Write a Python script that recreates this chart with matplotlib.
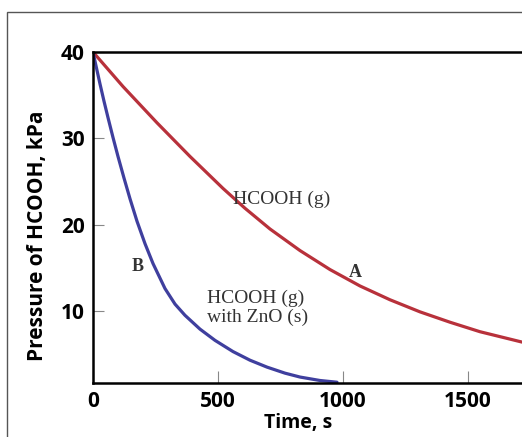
import matplotlib
matplotlib.use("Agg")
import matplotlib.pyplot as plt
from matplotlib.patches import Rectangle

# curve A: HCOOH (g) alone
time_a = [0, 120, 256, 388, 520, 608, 708, 828, 948, 1068, 1188, 1308, 1428, 1548, 1716]
pres_a = [40.0, 36.0, 31.8, 27.9, 24.2, 21.9, 19.5, 17.0, 14.8, 12.9, 11.3, 9.9, 8.7, 7.6, 6.4]

# curve B: HCOOH (g) with ZnO (s)
time_b = [0, 12, 28, 44, 60, 80, 100, 124, 148, 176, 208, 240, 288, 328, 368,
          428, 488, 560, 628, 696, 768, 828, 908, 976]
pres_b = [40.0, 38.4, 36.3, 34.3, 32.4, 30.1, 27.9, 25.4, 23.0, 20.4, 17.8, 15.5,
          12.6, 10.8, 9.5, 7.9, 6.6, 5.3, 4.3, 3.5, 2.8, 2.35, 1.95, 1.75]

xticks = [0, 500, 1000, 1500]
yticks = [10, 20, 30, 40]

red = "#b8313b"
blue = "#3f3f9e"
txt = "#333333"

fig = plt.figure(figsize=(5.22, 4.37), dpi=100)

# outer grey frame of the original picture
frame = Rectangle((7 / 522, -0.2), 2, 1.2 - 12 / 437, transform=fig.transFigure,
                  fill=False, edgecolor="#555555", linewidth=1.0)
fig.patches.append(frame)

ax = fig.add_axes([93 / 522, (437 - 383) / 437, 1 - 93 / 522, 331 / 437])

ax.plot(time_a, pres_a, color=red, linewidth=2.3, solid_capstyle="round", solid_joinstyle="round")
ax.plot(time_b, pres_b, color=blue, linewidth=2.3, solid_capstyle="round", solid_joinstyle="round")

ax.set_xlim(0, 1716)
ax.set_ylim(1.66, 40)

for s in ["left", "bottom", "top"]:
    ax.spines[s].set_linewidth(1.8)
    ax.spines[s].set_color("black")
ax.spines["right"].set_visible(False)

ax.set_xticks(xticks)
ax.set_yticks(yticks)
ax.tick_params(axis="x", direction="in", length=9, width=0.8, color="#888888", pad=6)
ax.tick_params(axis="y", direction="in", length=8, width=0.8, color="#888888", pad=6)
for lab in ax.get_xticklabels() + ax.get_yticklabels():
    lab.set_fontfamily("Open Sans")
    lab.set_fontweight("bold")
    lab.set_fontsize(15)

ax.set_xlabel("Time, s", fontfamily="Open Sans", fontweight="bold", fontsize=14)
ax.xaxis.set_label_coords(0.478, -0.092)
ax.set_ylabel("Pressure of HCOOH, kPa", fontfamily="Open Sans", fontweight="bold", fontsize=15)
ax.yaxis.set_label_coords(-0.105, 0.444)

ax.text(560, 22.9, "HCOOH (g)", fontfamily="Liberation Serif", fontsize=14, color=txt,
        ha="left", va="center")
ax.text(456, 10.35, "HCOOH (g)\nwith ZnO (s)", fontfamily="Liberation Serif", fontsize=14,
        color=txt, ha="left", va="center", linespacing=1.1)
ax.text(1048, 14.5, "A", fontfamily="Liberation Serif", fontweight="bold", fontsize=13,
        color=txt, ha="center", va="center")
ax.text(180, 15.2, "B", fontfamily="Liberation Serif", fontweight="bold", fontsize=13,
        color=txt, ha="center", va="center")

fig.savefig("out.png", dpi=100)
